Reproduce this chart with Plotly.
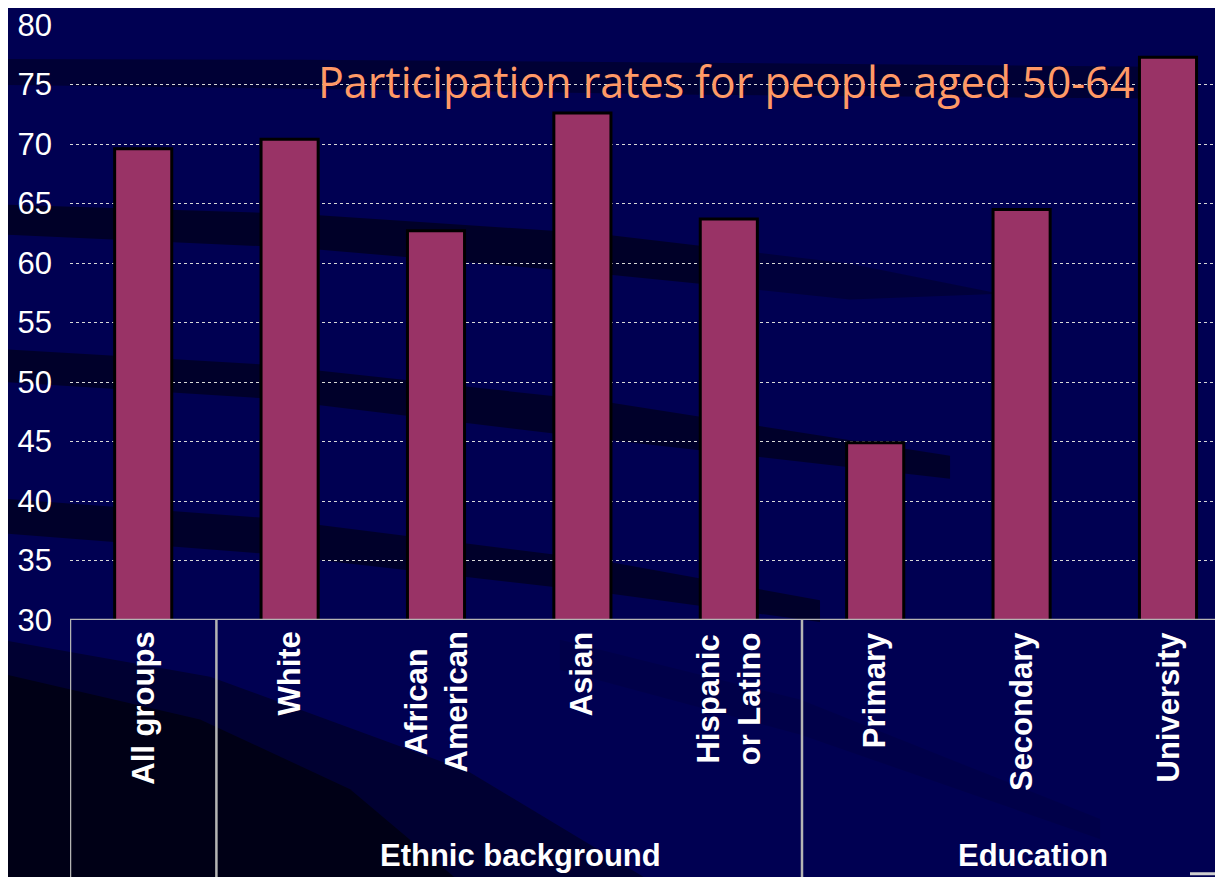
import plotly.graph_objects as go

# ---------------- data ----------------
categories = ["All groups", "White", "African American", "Asian",
              "Hispanic or Latino", "Primary", "Secondary", "University"]
category_labels = ["All groups", "White", "African<br>American", "Asian",
                   "Hispanic<br>or Latino", "Primary", "Secondary", "University"]
participation = [69.6, 70.4, 62.7, 72.6, 63.7, 44.9, 64.5, 77.3]
group_names = ["Ethnic background", "Education"]
group_first = [1, 5]
group_last = [4, 7]
y_ticks = [30, 35, 40, 45, 50, 55, 60, 65, 70, 75, 80]
title_text = "Participation rates for people aged 50-64"

# ---------------- layout constants (page pixels) ----------------
W, H = 1223, 877
OFF = 8                      # default page body margin
PL, PT, PB = 70, 22, 620     # plot area in page pixels
PR = 1231                    # plot continues past the window edge (cropped)
L = PL - OFF
T = PT - OFF
R = W + OFF - PR             # 0
B = H - (PB - OFF)
PW, PH = PR - PL, PB - PT
CAT_PX = 146.4
BG = "#000052"
DARK = "#00001e"


def px(x):
    return (x - PL) / PW


def py(y):
    return (PB - y) / PH


def band(pts, color, opacity=1.0):
    d = "M " + " L ".join(f"{px(x):.4f},{py(y):.4f}" for x, y in pts) + " Z"
    return dict(type="path", path=d, xref="paper", yref="paper",
                fillcolor=color, line=dict(width=0), layer="below", opacity=opacity)


shapes = [
    # decorative background swooshes
    band([(-10, 56), (300, 57), (700, 60), (1150, 64), (1150, 96), (700, 92), (300, 86), (-10, 82)], DARK, 0.55),
    band([(-10, 202), (300, 212), (600, 232), (700, 244), (700, 282), (600, 272), (300, 246), (-10, 232)], DARK, 0.8),
    band([(700, 244), (850, 262), (1000, 292), (850, 298), (700, 282)], DARK, 0.45),
    band([(-10, 347), (260, 363), (600, 400), (950, 455), (950, 478), (600, 438), (260, 397), (-10, 380)], DARK, 0.75),
    band([(-10, 497), (260, 517), (600, 560), (820, 600), (820, 622), (600, 592), (260, 553), (-10, 532)], DARK, 0.75),
    band([(560, 640), (800, 700), (1100, 820), (1100, 840), (800, 735), (560, 670)], DARK, 0.15),
    band([(-10, 638), (210, 677), (468, 772), (663, 890), (-10, 890)], "#000032", 1.0),
    band([(-10, 671), (200, 720), (350, 790), (468, 890), (-10, 890)], "#000016", 1.0),
]

# category box lines
box_color = "#b4b4b4"
shapes.append(dict(type="line", xref="x", yref="y", x0=-0.5, x1=len(categories) - 0.5,
                   y0=y_ticks[0], y1=y_ticks[0], line=dict(color=box_color, width=2.5)))
dividers = [-0.5] + [g - 0.5 for g in group_first]
for xd in dividers:
    shapes.append(dict(type="line", xref="x", yref="paper", x0=xd, x1=xd,
                       y0=0, y1=py(890), line=dict(color=box_color, width=2.5)))
# small white mark at bottom-right
shapes.append(dict(type="line", xref="paper", yref="paper", x0=px(1190), x1=px(1230),
                   y0=py(875), y1=py(875), line=dict(color="#d0d0d0", width=3)))

annotations = []
for i, lab in enumerate(category_labels):
    annotations.append(dict(x=i, y=py(630), xref="x", yref="paper", text=f"<b>{lab}</b>",
                            textangle=-90, showarrow=False, yanchor="top", xanchor="center",
                            align="center",
                            font=dict(family="Liberation Sans, Arial", size=31, color="white")))
for name, a, b in zip(group_names, group_first, group_last):
    annotations.append(dict(x=(a + b) / 2, y=py(857), xref="x", yref="paper", xshift=11,
                            text=f"<b>{name}</b>", showarrow=False,
                            xanchor="center", yanchor="middle",
                            font=dict(family="Liberation Sans, Arial", size=31, color="white")))
annotations.append(dict(x=px(726), y=py(79), xref="paper", yref="paper", text=title_text,
                        showarrow=False, xanchor="center", yanchor="middle",
                        font=dict(family="Comic Sans MS, Open Sans", size=43, color="#ff9966")))

fig = go.Figure()
fig.add_trace(go.Bar(
    x=list(range(len(categories))), y=participation, width=0.39,
    marker=dict(color="#993366", line=dict(color="black", width=3)),
    hovertext=categories, showlegend=False,
))

fig.update_layout(
    width=W, height=H,
    margin=dict(l=L, r=R, t=T, b=B, pad=0),
    paper_bgcolor=BG, plot_bgcolor="rgba(0,0,0,0)",
    shapes=shapes, annotations=annotations,
    xaxis=dict(range=[-0.5, -0.5 + PW / CAT_PX], showticklabels=False, showgrid=False,
               zeroline=False, showline=False, ticks=""),
    yaxis=dict(range=[y_ticks[0], y_ticks[-1]], tickvals=y_ticks, showgrid=True,
               gridcolor="#d8d8d8", griddash="dot", gridwidth=1, zeroline=False,
               showline=False, ticks="", ticklabelstandoff=17, ticklabeloverflow="allow",
               tickfont=dict(family="Liberation Sans, Arial", size=31, color="white")),
    bargap=0.6,
)

fig.write_html("out.html")
